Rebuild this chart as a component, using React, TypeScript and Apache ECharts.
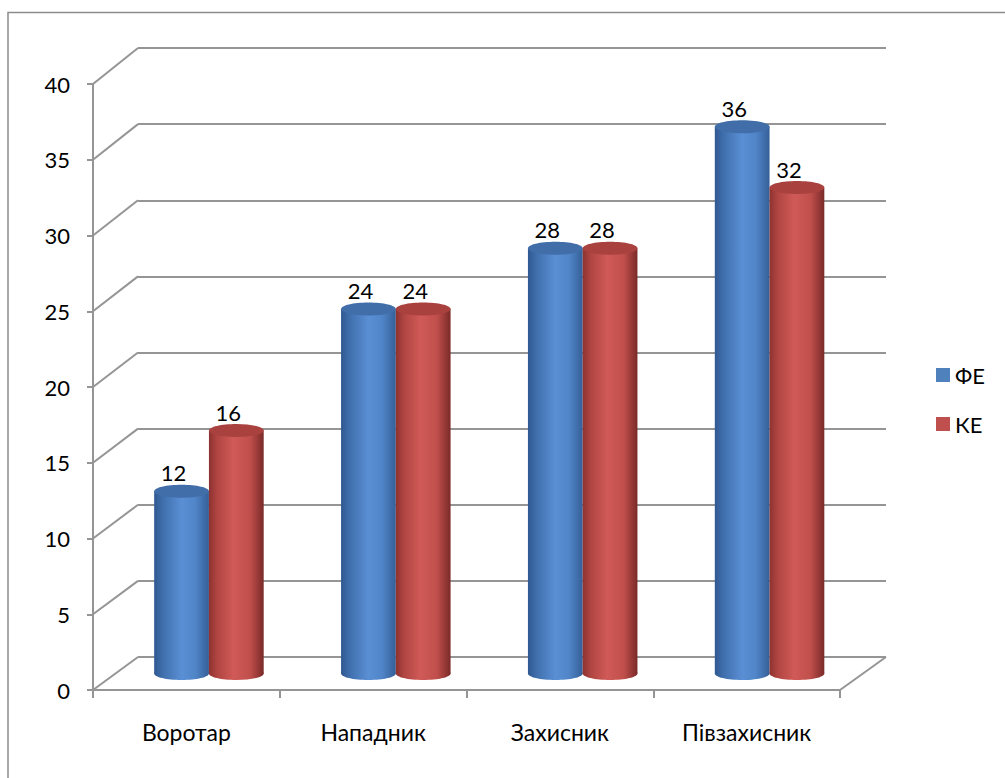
import React, { useEffect, useRef } from "react";
import * as echarts from "echarts";

const CATEGORIES = ["Воротар", "Нападник", "Захисник", "Півзахисник"];
const SERIES_NAMES = ["ФЕ", "КЕ"];
const FE_VALUES = [12, 24, 28, 36];
const KE_VALUES = [16, 24, 28, 32];
const Y_TICKS = [0, 5, 10, 15, 20, 25, 30, 35, 40];

const FONT = 'Lato, "Open Sans", "Noto Sans", sans-serif';
const GRID_COLOR = "#959595";

const FRONT = { left: 93, top: 84, width: 747, height: 606 };
const MID = { left: 115.5, top: 66, width: 747.5, height: 607.5 };
const BACK = { left: 138, top: 48, width: 748, height: 609 };

const PALETTE = [
  {
    base: "#4f81bd",
    body: [
      [0, "#2f5891"],
      [0.15, "#3f6eab"],
      [0.5, "#5a8fd5"],
      [0.75, "#5085c8"],
      [1, "#355f98"],
    ],
    top: "#416ea9",
  },
  {
    base: "#c0504d",
    body: [
      [0, "#8d3230"],
      [0.15, "#b04542"],
      [0.45, "#d05a57"],
      [0.75, "#c04f4c"],
      [1, "#7a2a28"],
    ],
    top: "#a9423f",
  },
];

function makeRender(si: number) {
  return (params: any, api: any) => {
    const cat = api.value(0);
    const v = api.value(1);
    const top = api.coord([cat, v]);
    const base = api.coord([cat, 0]);
    const band = api.size([1, 0])[0];
    const w = band * 0.293;
    const cx = top[0] + (si === 0 ? -w / 2 : w / 2);
    const rx = w / 2;
    const ry = 6.5;
    const pal = PALETTE[si];
    const grad = () =>
      new echarts.graphic.LinearGradient(
        0,
        0,
        1,
        0,
        pal.body.map((s) => ({ offset: s[0] as number, color: s[1] as string }))
      );
    return {
      type: "group",
      children: [
        { type: "ellipse", shape: { cx, cy: base[1], rx, ry }, style: { fill: grad() } },
        {
          type: "rect",
          shape: { x: cx - rx, y: top[1], width: w, height: base[1] - top[1] },
          style: { fill: grad() },
        },
        { type: "ellipse", shape: { cx, cy: top[1], rx, ry }, style: { fill: pal.top } },
        {
          type: "text",
          style: {
            text: String(v),
            x: cx - 8,
            y: top[1] - ry - 1,
            align: "center",
            verticalAlign: "bottom",
            fontSize: 22,
            fontFamily: FONT,
            fill: "#000",
          },
        },
      ],
    };
  };
}

export default function App() {
  const ref = useRef<HTMLDivElement>(null);
  useEffect(() => {
    if (!ref.current) return;
    const chart = echarts.init(ref.current, undefined, { renderer: "svg" });
    const hiddenCat = (gi: number) => ({
      type: "category",
      gridIndex: gi,
      data: CATEGORIES,
      show: false,
    });
    const hiddenVal = (gi: number, split: boolean) => ({
      type: "value",
      gridIndex: gi,
      min: 0,
      max: 40,
      interval: 5,
      axisLine: { show: false },
      axisTick: { show: false },
      axisLabel: { show: false },
      splitLine: { show: split, lineStyle: { color: GRID_COLOR, width: 2 } },
    });
    chart.setOption({
      animation: false,
      backgroundColor: "#fff",
      grid: [{ ...FRONT }, { ...MID }, { ...BACK }],
      legend: {
        orient: "vertical",
        left: 931,
        top: 359,
        itemWidth: 14,
        itemHeight: 14,
        itemGap: 27,
        icon: "rect",
        data: SERIES_NAMES,
        textStyle: { fontSize: 22, fontFamily: FONT, color: "#000", padding: [0, 0, 0, 0] },
      },
      xAxis: [
        {
          type: "category",
          gridIndex: 0,
          data: CATEGORIES,
          boundaryGap: true,
          axisLine: { show: true, lineStyle: { color: GRID_COLOR, width: 2 } },
          axisTick: { show: true, length: 8, interval: 0, lineStyle: { color: GRID_COLOR, width: 2 } },
          axisLabel: { fontSize: 23, fontFamily: FONT, color: "#000", margin: 30, interval: 0 },
          splitLine: { show: false },
        },
        hiddenCat(1),
        hiddenCat(2),
      ],
      yAxis: [
        {
          type: "value",
          gridIndex: 0,
          min: 0,
          max: 40,
          interval: 5,
          axisLine: { show: true, lineStyle: { color: GRID_COLOR, width: 2 } },
          axisTick: { show: true, length: 6, lineStyle: { color: GRID_COLOR, width: 2 } },
          axisLabel: { fontSize: 22, fontFamily: FONT, color: "#000", margin: 23 },
          splitLine: { show: false },
        },
        hiddenVal(1, false),
        hiddenVal(2, true),
      ],
      series: [
        {
          name: SERIES_NAMES[0],
          type: "custom",
          xAxisIndex: 1,
          yAxisIndex: 1,
          itemStyle: { color: PALETTE[0].base },
          renderItem: makeRender(0),
          data: FE_VALUES.map((v, i) => [i, v]),
          z: 3,
        },
        {
          name: SERIES_NAMES[1],
          type: "custom",
          xAxisIndex: 1,
          yAxisIndex: 1,
          itemStyle: { color: PALETTE[1].base },
          renderItem: makeRender(1),
          data: KE_VALUES.map((v, i) => [i, v]),
          z: 4,
        },
      ],
    });

    const lines: any[] = [];
    Y_TICKS.forEach((t) => {
      const fy = chart.convertToPixel({ yAxisIndex: 0 } as any, t) as number;
      const by = chart.convertToPixel({ yAxisIndex: 2 } as any, t) as number;
      lines.push({
        type: "line",
        shape: { x1: FRONT.left, y1: fy, x2: BACK.left, y2: by },
        style: { stroke: GRID_COLOR, lineWidth: 2 },
        z: 1,
      });
    });
    const fy0 = chart.convertToPixel({ yAxisIndex: 0 } as any, 0) as number;
    const by0 = chart.convertToPixel({ yAxisIndex: 2 } as any, 0) as number;
    lines.push({
      type: "line",
      shape: {
        x1: FRONT.left + FRONT.width,
        y1: fy0,
        x2: BACK.left + BACK.width,
        y2: by0,
      },
      style: { stroke: GRID_COLOR, lineWidth: 2 },
      z: 1,
    });
    lines.push({
      type: "rect",
      shape: { x: 8, y: 12.5, width: 1020, height: 800 },
      style: { fill: "none", stroke: "#8c8c8c", lineWidth: 1.5 },
      z: 0,
    });
    chart.setOption({ graphic: lines });

    return () => chart.dispose();
  }, []);
  return (
    <div
      ref={ref}
      style={{ position: "fixed", left: 0, top: 0, width: 1005, height: 778 }}
    />
  );
}
